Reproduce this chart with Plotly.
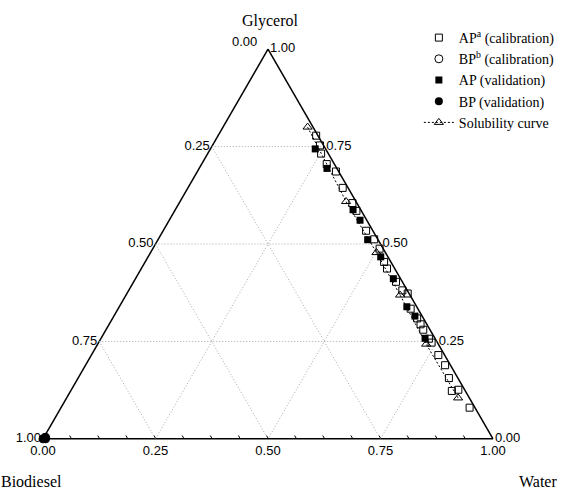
import plotly.graph_objects as go

# ---- data (mass fractions) ----
# AP calibration (open squares)
ap_cal_glycerol = [0.778, 0.753, 0.732, 0.705, 0.686, 0.644, 0.605, 0.585, 0.534, 0.512,
                   0.488, 0.454, 0.437, 0.403, 0.381, 0.373, 0.334, 0.309, 0.294, 0.280,
                   0.257, 0.247, 0.215, 0.189, 0.156, 0.123, 0.126, 0.080]
ap_cal_biodiesel = [0.004, 0.008, 0.016, 0.017, 0.006, 0.012, 0.010, 0.011, 0.015, 0.008,
                    0.008, 0.015, 0.017, 0.014, 0.011, 0.003, 0.016, 0.014, 0.014, 0.015,
                    0.014, 0.013, 0.014, 0.012, 0.020, 0.030, 0.014, 0.012]
ap_cal_water = [0.218, 0.239, 0.252, 0.278, 0.308, 0.344, 0.385, 0.404, 0.451, 0.480,
                0.504, 0.531, 0.546, 0.583, 0.608, 0.624, 0.650, 0.677, 0.692, 0.705,
                0.729, 0.740, 0.771, 0.799, 0.824, 0.847, 0.860, 0.908]

# BP calibration (open circles)
bp_cal_glycerol = [0.004, 0.000, 0.000]
bp_cal_biodiesel = [0.992, 1.000, 0.994]
bp_cal_water = [0.004, 0.000, 0.006]

# AP validation (filled squares)
ap_val_glycerol = [0.744, 0.694, 0.588, 0.561, 0.511, 0.467, 0.411, 0.339, 0.315, 0.258]
ap_val_biodiesel = [0.023, 0.022, 0.017, 0.015, 0.023, 0.016, 0.016, 0.022, 0.016, 0.022]
ap_val_water = [0.233, 0.284, 0.395, 0.424, 0.466, 0.517, 0.573, 0.639, 0.669, 0.720]

# BP validation (filled circles)
bp_val_glycerol = [0.000, 0.005, 0.003, 0.000]
bp_val_biodiesel = [1.000, 0.993, 0.994, 0.995]
bp_val_water = [0.000, 0.002, 0.003, 0.005]

# Solubility curve (open triangles, dotted line)
sol_glycerol = [0.800, 0.609, 0.478, 0.369, 0.243, 0.105]
sol_biodiesel = [0.012, 0.022, 0.020, 0.022, 0.027, 0.025]
sol_water = [0.188, 0.369, 0.502, 0.609, 0.730, 0.870]

# axis ticks
major_vals = [0.0, 0.25, 0.5, 0.75, 1.0]
major_text = ["1.00", "0.75", "0.50", "0.25", "0.00"]
minor_vals = [i / 16 for i in range(17)]
grid_vals = [0.25, 0.5, 0.75]

# ---------------------------------
tick_text = []
for v in minor_vals:
    if v in major_vals:
        tick_text.append(major_text[major_vals.index(v)])
    else:
        tick_text.append("")
# top-vertex label of the left edge is drawn as an annotation (avoids overlap)
a_tick_text = list(major_text)
a_tick_text[-1] = ""

fig = go.Figure()

# dotted grid lines
for v in grid_vals:
    for a, b, c in [([v, v], [1 - v, 0], [0, 1 - v]),
                    ([1 - v, 0], [v, v], [0, 1 - v]),
                    ([1 - v, 0], [0, 1 - v], [v, v])]:
        fig.add_trace(go.Scatterternary(a=a, b=b, c=c, mode="lines",
                                        line=dict(color="#a8a8a8", width=1, dash="1px,2px"),
                                        showlegend=False, hoverinfo="skip"))

fig.add_trace(go.Scatterternary(
    a=ap_cal_glycerol, b=ap_cal_biodiesel, c=ap_cal_water, mode="markers",
    name="AP<sup>a</sup> (calibration)", cliponaxis=False,
    marker=dict(symbol="square-open", size=7, color="black", line=dict(width=1))))
fig.add_trace(go.Scatterternary(
    a=bp_cal_glycerol, b=bp_cal_biodiesel, c=bp_cal_water, mode="markers",
    name="BP<sup>b</sup> (calibration)", cliponaxis=False,
    marker=dict(symbol="circle-open", size=8, color="black", line=dict(width=1))))
fig.add_trace(go.Scatterternary(
    a=ap_val_glycerol, b=ap_val_biodiesel, c=ap_val_water, mode="markers",
    name="AP (validation)", cliponaxis=False,
    marker=dict(symbol="square", size=7, color="black")))
fig.add_trace(go.Scatterternary(
    a=bp_val_glycerol, b=bp_val_biodiesel, c=bp_val_water, mode="markers",
    name="BP (validation)", cliponaxis=False,
    marker=dict(symbol="circle", size=8, color="black")))
fig.add_trace(go.Scatterternary(
    a=sol_glycerol, b=sol_biodiesel, c=sol_water, mode="lines+markers",
    name="Solubility curve", cliponaxis=False,
    line=dict(color="black", width=1, dash="2px,2px"),
    marker=dict(symbol="triangle-up-open", size=8, color="black", line=dict(width=1))))

sans = "Liberation Sans, Arial"
serif = "Liberation Serif, Times New Roman"
tickfont = dict(family=sans, size=13, color="black")
titlefont = dict(family=serif, size=16, color="black")


def axis(vals, texts, ticks):
    return dict(
        title=dict(text=""),
        min=0, tickmode="array", tickvals=vals, ticktext=texts,
        ticks=ticks, ticklen=3, tickwidth=1, tickcolor="black",
        showline=True, linecolor="black", linewidth=1.5,
        showgrid=False, tickfont=tickfont, layer="below traces",
    )


W, H = 573, 489


def px(x, y):
    return x / W, 1 - y / H


annotations = []
for text, (x, y), font in [("0.00", (244, 42), tickfont),
                           ("Glycerol", (270, 21), titlefont),
                           ("Biodiesel", (31, 481), titlefont),
                           ("Water", (538, 481), titlefont)]:
    xp, yp = px(x, y)
    annotations.append(dict(text=text, x=xp, y=yp, xref="paper", yref="paper",
                            xanchor="center", yanchor="middle", showarrow=False, font=font))

fig.update_layout(
    width=W, height=H,
    margin=dict(l=0, r=0, t=0, b=0, autoexpand=False),
    paper_bgcolor="white", plot_bgcolor="white",
    ternary=dict(
        sum=1,
        bgcolor="white",
        domain=dict(x=[43 / W, 493 / W], y=[50 / H, 440 / H]),
        aaxis=axis(major_vals, a_tick_text, ""),
        baxis=axis(minor_vals, tick_text, "inside"),
        caxis=axis(major_vals, major_text, ""),
    ),
    legend=dict(x=0.731, y=0.955, xanchor="left", yanchor="top",
                bgcolor="rgba(0,0,0,0)",
                font=dict(family=serif, size=14, color="black")),
    annotations=annotations,
    showlegend=True,
)

fig.write_html("out.html", config={"displayModeBar": False},
               post_script="document.body.style.margin='0';")
